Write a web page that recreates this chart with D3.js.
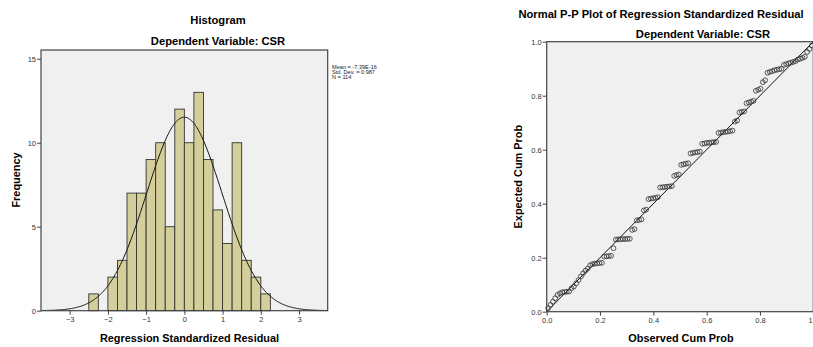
<!DOCTYPE html>
<html>
<head>
<meta charset="utf-8">
<script src="https://cdn.jsdelivr.net/npm/d3@7"></script>
<style>
    body { margin: 0; background: #fff; }
    svg { display: block; font-family: "Liberation Sans", Arial, sans-serif; }
    .title { font-weight: bold; font-size: 11.2px; fill: #000; }
    .axis-label { font-weight: bold; font-size: 10.9px; fill: #000; }
    .tick text { font-size: 7.5px; fill: #333; }
    .tick line, .domain { stroke: #444; }
    .stats { font-size: 5.6px; fill: #222; }
</style>
</head>
<body>
<svg id="chart" width="813" height="347"></svg>
<script>
// histogram bins (lower edge) and counts
const binLower = [-2.5, -2.25, -2, -1.75, -1.5, -1.25, -1, -0.75, -0.5, -0.25, 0, 0.25, 0.5, 0.75, 1, 1.25, 1.5, 1.75, 2];
const frequency = [1, 0, 2, 3, 7, 7, 9, 10, 5, 12, 10, 13, 9, 6, 4, 10, 3, 2, 1];
const binWidth = 0.25;
const histXTicks = [-3, -2, -1, 0, 1, 2, 3];
const histYTicks = [0, 5, 10, 15];
const residMean = -7.39e-16;
const residSd = 0.987;
const nObs = 114;
const statsLines = ['Mean = -7.39E-16', 'Std. Dev. = 0.987', 'N = 114'];

// expected cum prob of the sorted residuals
const expectedCumProb = [
    0.013, 0.025, 0.037, 0.05, 0.062, 0.068,
    0.072, 0.073, 0.074, 0.075,
    0.087, 0.093, 0.105, 0.117, 0.13, 0.142, 0.152, 0.16, 0.172,
    0.176, 0.178, 0.179, 0.18, 0.181,
    0.204, 0.205, 0.206, 0.207,
    0.235,
    0.267, 0.268, 0.268, 0.269, 0.269, 0.27, 0.27,
    0.303, 0.306,
    0.338, 0.34, 0.342,
    0.375, 0.378,
    0.417, 0.419, 0.42, 0.422, 0.424,
    0.46, 0.461, 0.462, 0.463, 0.464, 0.465,
    0.503, 0.506, 0.508,
    0.544, 0.546, 0.548, 0.55,
    0.586, 0.588, 0.59, 0.591, 0.593,
    0.622, 0.623, 0.625, 0.626, 0.627, 0.628, 0.629,
    0.662, 0.663, 0.665, 0.666, 0.667, 0.669, 0.671,
    0.704, 0.708,
    0.738, 0.74, 0.742,
    0.772, 0.775, 0.778, 0.781,
    0.818, 0.822, 0.826,
    0.85, 0.857,
    0.885, 0.888, 0.891, 0.894, 0.896, 0.898, 0.9,
    0.914, 0.917, 0.92, 0.922, 0.925, 0.928,
    0.934, 0.937, 0.94, 0.944,
    0.962, 0.973, 0.986
];
const ppTicks = [0, 0.2, 0.4, 0.6, 0.8, 1.0];

const svg = d3.select('#chart');
const plotBg = '#f0f0f0';
const barFill = '#d4cf9a';

// ---------- Histogram ----------
const h = { left: 41, right: 327.7, top: 50, bottom: 310.7 };

const hx = d3.scaleLinear().domain([-3.75, 3.75]).range([h.left, h.right]);
const hy = d3.scaleLinear().domain([0, 15.52]).range([h.bottom, h.top]);

svg.append('rect')
    .attr('x', h.left).attr('y', h.top)
    .attr('width', h.right - h.left).attr('height', h.bottom - h.top)
    .attr('fill', plotBg);

const bins = binLower.map((x0, i) => ({ x0: x0, x1: x0 + binWidth, n: frequency[i] }));

svg.append('g').selectAll('rect')
    .data(bins.filter(d => d.n > 0))
    .join('rect')
    .attr('x', d => hx(d.x0))
    .attr('y', d => hy(d.n))
    .attr('width', d => hx(d.x1) - hx(d.x0))
    .attr('height', d => hy(0) - hy(d.n))
    .attr('fill', barFill)
    .attr('stroke', '#333')
    .attr('stroke-width', 0.9);

// fitted normal curve
const curveX = d3.range(-3.75, 3.7501, 0.02);
const normal = d3.line()
    .x(d => hx(d))
    .y(d => hy(nObs * binWidth * Math.exp(-0.5 * ((d - residMean) / residSd) ** 2) / (residSd * Math.sqrt(2 * Math.PI))))
    .curve(d3.curveBasis);

svg.append('path')
    .datum(curveX)
    .attr('d', normal)
    .attr('fill', 'none')
    .attr('stroke', '#111')
    .attr('stroke-width', 1);

svg.append('rect')
    .attr('x', h.left).attr('y', h.top)
    .attr('width', h.right - h.left).attr('height', h.bottom - h.top)
    .attr('fill', 'none').attr('stroke', '#444').attr('stroke-width', 1.2);

svg.append('g')
    .attr('transform', `translate(0,${h.bottom})`)
    .call(d3.axisBottom(hx).tickValues(histXTicks).tickSize(4).tickPadding(2).tickSizeOuter(0))
    .call(g => g.select('.domain').remove());

svg.append('g')
    .attr('transform', `translate(${h.left},0)`)
    .call(d3.axisLeft(hy).tickValues(histYTicks).tickSize(4).tickPadding(1).tickSizeOuter(0))
    .call(g => g.select('.domain').remove());

svg.append('text').attr('class', 'title')
    .attr('x', 218).attr('y', 24).attr('text-anchor', 'middle').text('Histogram');
svg.append('text').attr('class', 'title')
    .attr('x', 218).attr('y', 45).attr('text-anchor', 'middle').text('Dependent Variable: CSR');
svg.append('text').attr('class', 'axis-label')
    .attr('x', 189.5).attr('y', 341.5).attr('text-anchor', 'middle').text('Regression Standardized Residual');
svg.append('text').attr('class', 'axis-label')
    .attr('transform', `translate(20,180) rotate(-90)`)
    .attr('text-anchor', 'middle').text('Frequency');

svg.append('g').selectAll('text')
    .data(statsLines)
    .join('text')
    .attr('class', 'stats')
    .attr('x', 332)
    .attr('y', (d, i) => 69 + i * 5.2)
    .text(d => d);

// ---------- Normal P-P plot ----------
const p = { left: 546.7, right: 813.3, top: 41.7, bottom: 311.7 };

const px = d3.scaleLinear().domain([0, 1]).range([p.left, p.right]);
const py = d3.scaleLinear().domain([0, 1]).range([p.bottom, p.top]);

svg.append('rect')
    .attr('x', p.left).attr('y', p.top)
    .attr('width', p.right - p.left).attr('height', p.bottom - p.top)
    .attr('fill', plotBg);

// reference diagonal
svg.append('line')
    .attr('x1', px(0)).attr('y1', py(0))
    .attr('x2', px(1)).attr('y2', py(1))
    .attr('stroke', '#111').attr('stroke-width', 1);

// observed cum prob from rank (Blom)
const ppData = expectedCumProb.map((e, i) => ({ obs: (i + 1 - 0.375) / (nObs + 0.25), exp: e }));

svg.append('g').selectAll('circle')
    .data(ppData)
    .join('circle')
    .attr('cx', d => px(d.obs))
    .attr('cy', d => py(d.exp))
    .attr('r', 2.4)
    .attr('fill', 'none')
    .attr('stroke', '#333')
    .attr('stroke-width', 0.8);

svg.append('rect')
    .attr('x', p.left).attr('y', p.top)
    .attr('width', p.right - p.left).attr('height', p.bottom - p.top)
    .attr('fill', 'none').attr('stroke', '#444').attr('stroke-width', 1.2);

svg.append('g')
    .attr('transform', `translate(0,${p.bottom})`)
    .call(d3.axisBottom(px).tickValues(ppTicks).tickFormat(d3.format('.1f')).tickSize(4).tickPadding(2).tickSizeOuter(0))
    .call(g => g.select('.domain').remove());

svg.append('g')
    .attr('transform', `translate(${p.left},0)`)
    .call(d3.axisLeft(py).tickValues(ppTicks).tickFormat(d3.format('.1f')).tickSize(4).tickPadding(1).tickSizeOuter(0))
    .call(g => g.select('.domain').remove());

svg.append('text').attr('class', 'title')
    .attr('x', 661).attr('y', 17.5).attr('text-anchor', 'middle').text('Normal P-P Plot of Regression Standardized Residual');
svg.append('text').attr('class', 'title')
    .attr('x', 703).attr('y', 37.5).attr('text-anchor', 'middle').text('Dependent Variable: CSR');
svg.append('text').attr('class', 'axis-label')
    .attr('x', 681).attr('y', 341.5).attr('text-anchor', 'middle').text('Observed Cum Prob');
svg.append('text').attr('class', 'axis-label')
    .attr('transform', `translate(522,176.7) rotate(-90)`)
    .attr('text-anchor', 'middle').text('Expected Cum Prob');
</script>
</body>
</html>
